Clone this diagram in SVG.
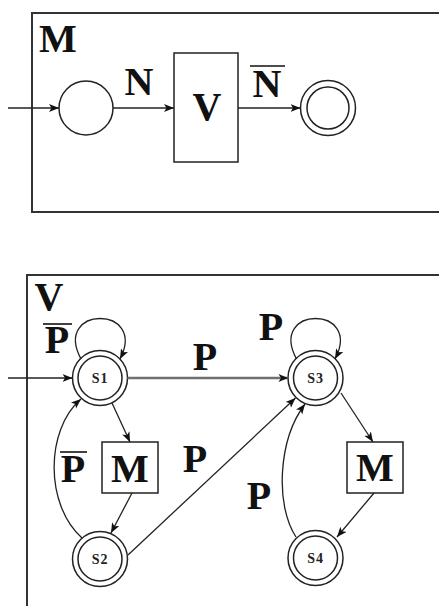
<svg xmlns="http://www.w3.org/2000/svg" width="439" height="606" viewBox="0 0 439 606">
<defs>
<style>
.frame{fill:none;stroke:#333;stroke-width:2}
.node{fill:#fff;stroke:#222;stroke-width:1.5}
.edge{fill:none;stroke:#222;stroke-width:1.3}
.grey{fill:none;stroke:#707070;stroke-width:2.4}
.big{font-family:"Liberation Serif","Times New Roman",serif;font-weight:bold;font-size:40px;fill:#111;text-anchor:middle}
.sm{font-family:"Liberation Serif","Times New Roman",serif;font-weight:bold;font-size:14px;fill:#222;text-anchor:middle;letter-spacing:0.8px}
.bar{stroke:#111;stroke-width:1.6}
</style>
<marker id="ah" markerUnits="userSpaceOnUse" markerWidth="11" markerHeight="9" refX="10" refY="4" orient="auto">
<path d="M0,0 L10,4 L0,8 L2.5,4 z" fill="#111"/>
</marker>
</defs>

<g id="frame-M">
<path class="frame" d="M445 13 H32 V212 H445"/>
<text class="big" x="58" y="52">M</text>
</g>

<g id="frame-V">
<path class="frame" d="M445 275 H27 V612"/>
<text class="big" x="49" y="310">V</text>
</g>

<g id="m-start">
<circle class="node" cx="86" cy="108" r="27"/>
</g>
<g id="m-V">
<rect class="node" x="174" y="53" width="64" height="109"/>
<text class="big" x="207" y="120">V</text>
</g>
<g id="m-final">
<circle class="node" cx="328" cy="108" r="27.5"/>
<circle class="node" cx="328" cy="108" r="21"/>
</g>

<g id="s1">
<circle class="node" cx="100" cy="378" r="27.5"/>
<circle class="node" cx="100" cy="378" r="22"/>
<text class="sm" x="100" y="383">S1</text>
</g>
<g id="s2">
<circle class="node" cx="100" cy="559" r="27.5"/>
<circle class="node" cx="100" cy="559" r="22"/>
<text class="sm" x="100" y="564">S2</text>
</g>
<g id="s3">
<circle class="node" cx="315.5" cy="378" r="27.5"/>
<circle class="node" cx="315.5" cy="378" r="22"/>
<text class="sm" x="315.5" y="383">S3</text>
</g>
<g id="s4">
<circle class="node" cx="315.5" cy="558" r="27.5"/>
<circle class="node" cx="315.5" cy="558" r="22"/>
<text class="sm" x="315.5" y="563">S4</text>
</g>
<g id="m-left">
<rect class="node" x="102" y="442" width="56" height="51"/>
<text class="big" x="130" y="482">M</text>
</g>
<g id="m-right">
<rect class="node" x="347" y="442" width="56" height="51"/>
<text class="big" x="375" y="481">M</text>
</g>

<g id="connectors">
<line class="edge" x1="8" y1="108" x2="59" y2="108" marker-end="url(#ah)"/>
<line class="edge" x1="113" y1="108" x2="174" y2="108" marker-end="url(#ah)"/>
<line class="edge" x1="238" y1="108" x2="300.5" y2="108" marker-end="url(#ah)"/>

<line class="edge" x1="8" y1="378" x2="72.5" y2="378" marker-end="url(#ah)"/>
<path class="edge" d="M81 359 C52 305,148 305,120 359" marker-end="url(#ah)"/>
<line class="grey" x1="127.5" y1="378" x2="287" y2="378"/>
<path d="M278.5 374 L288 378 L278.5 382 L281 378 z" fill="#111"/>
<line class="edge" x1="112" y1="403" x2="130" y2="442" marker-end="url(#ah)"/>
<line class="edge" x1="132" y1="493" x2="111" y2="533" marker-end="url(#ah)"/>
<path class="edge" d="M82 538 C45 505,45 430,81 399" marker-end="url(#ah)"/>
<line class="edge" x1="128" y1="555" x2="295.5" y2="398" marker-end="url(#ah)"/>

<path class="edge" d="M296.5 359 C267.5 305,363.5 305,335 359" marker-end="url(#ah)"/>
<line class="edge" x1="341" y1="393" x2="373" y2="442" marker-end="url(#ah)"/>
<line class="edge" x1="374" y1="493" x2="337" y2="537" marker-end="url(#ah)"/>
<path class="edge" d="M296 537 C275 505,278 440,305 404" marker-end="url(#ah)"/>
</g>

<g id="labels">
<text class="big" x="139" y="95">N</text>
<text class="big" x="267" y="97">N</text>
<line class="bar" x1="250" y1="66" x2="285" y2="66"/>

<text class="big" x="57" y="353">P</text>
<line class="bar" x1="43" y1="324" x2="72" y2="324"/>
<text class="big" x="205" y="370">P</text>
<text class="big" x="271" y="340">P</text>
<text class="big" x="73" y="482">P</text>
<line class="bar" x1="60" y1="452" x2="87" y2="452"/>
<text class="big" x="195" y="472">P</text>
<text class="big" x="259" y="509">P</text>
</g>
</svg>
